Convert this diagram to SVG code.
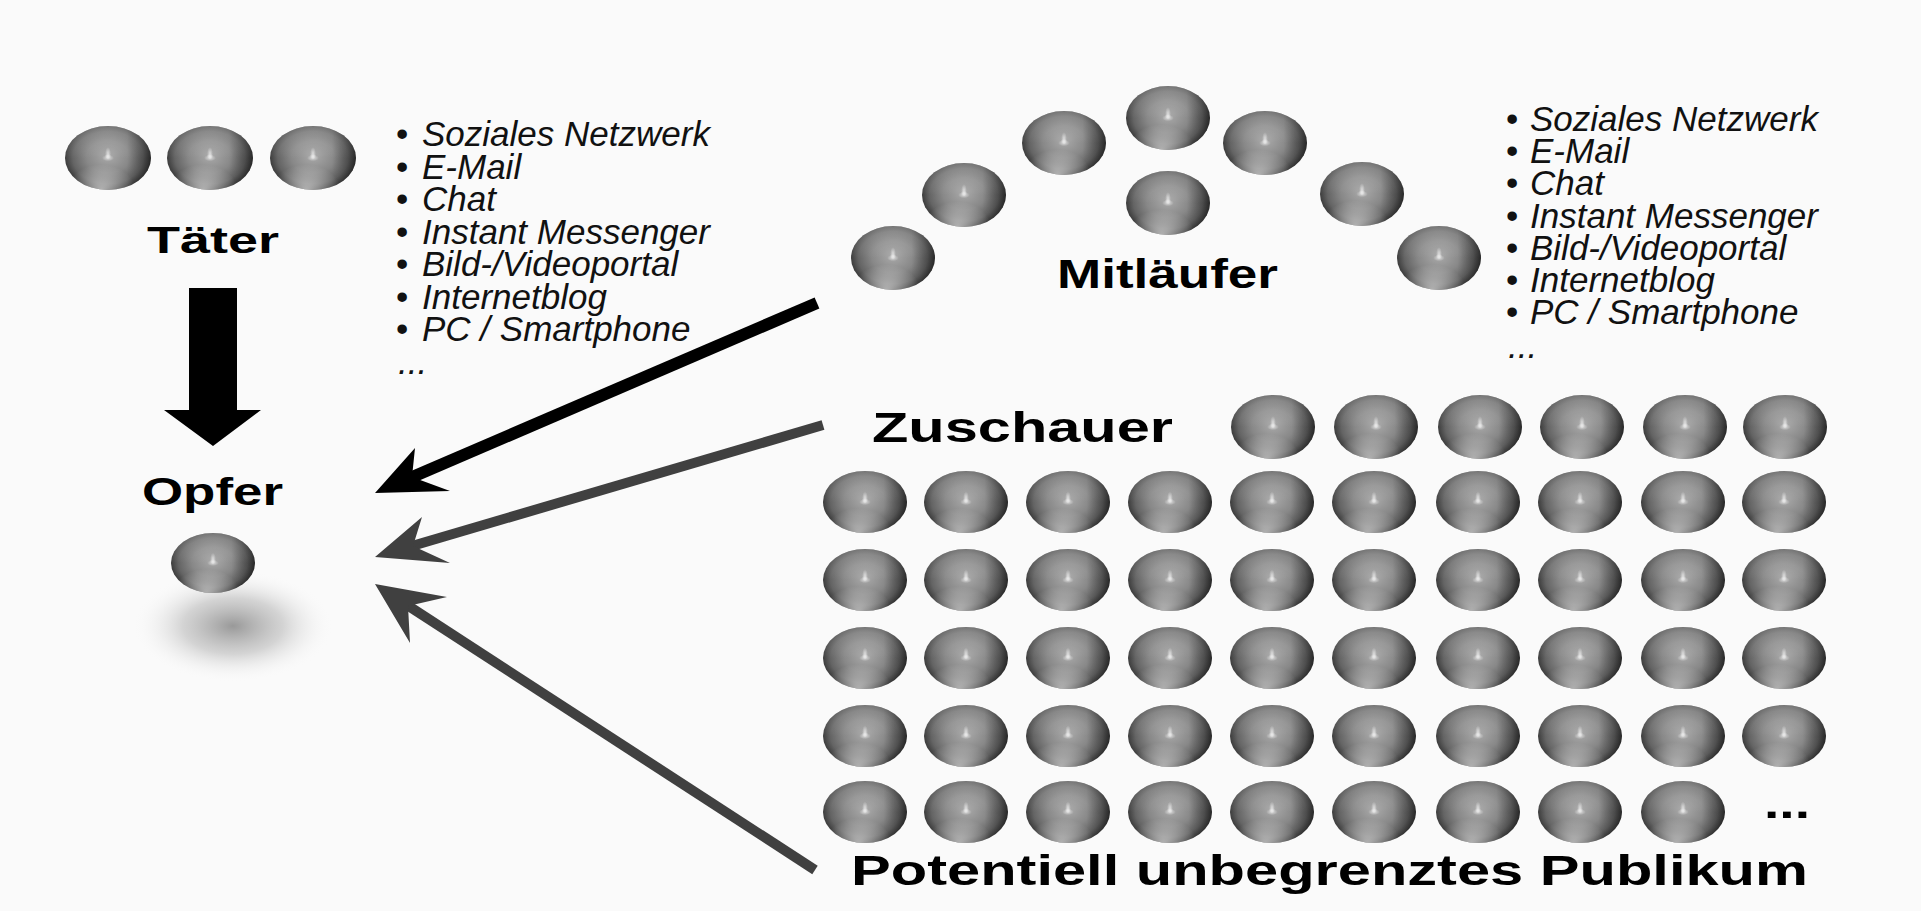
<svg xmlns="http://www.w3.org/2000/svg" xmlns:xlink="http://www.w3.org/1999/xlink" width="1921" height="911" viewBox="0 0 1921 911">
  <style>
    .label { font-family: "Liberation Sans", Arial, sans-serif; font-weight: bold; fill: #000; }
    .list { font-family: "Liberation Sans", Arial, sans-serif; font-size: 35px; fill: #111; }
    .item { font-style: italic; }
    .wire-black { stroke: #000; stroke-width: 12; fill: none; }
    .wire-grey { stroke: #404040; stroke-width: 10; fill: none; }
    .head-black { fill: #000; }
    .head-grey { fill: #404040; }
  </style>
  <defs>
    <!-- glossy grey sphere, unit size, scaled per use -->
    <radialGradient id="sphereBody" cx="0.5" cy="0.5" r="0.5" fx="0.5" fy="0.47">
      <stop offset="0" stop-color="#d6d6d6"/>
      <stop offset="0.08" stop-color="#a4a4a4"/>
      <stop offset="0.5" stop-color="#888"/>
      <stop offset="0.82" stop-color="#646464"/>
      <stop offset="1" stop-color="#3c3c3c"/>
    </radialGradient>
    <linearGradient id="sphereTop" x1="0" y1="0" x2="0" y2="1">
      <stop offset="0" stop-color="#fff" stop-opacity="0.3"/>
      <stop offset="0.5" stop-color="#fff" stop-opacity="0"/>
    </linearGradient>
    <linearGradient id="sphereSide" x1="0" y1="0" x2="1" y2="0">
      <stop offset="0" stop-color="#000" stop-opacity="0"/>
      <stop offset="0.72" stop-color="#000" stop-opacity="0"/>
      <stop offset="1" stop-color="#000" stop-opacity="0.35"/>
    </linearGradient>
    <radialGradient id="sphereRim" cx="0.42" cy="1" r="0.4">
      <stop offset="0" stop-color="#fff" stop-opacity="0.6"/>
      <stop offset="1" stop-color="#fff" stop-opacity="0"/>
    </radialGradient>
    <radialGradient id="sphereGlint" cx="0.5" cy="0.5" r="0.5">
      <stop offset="0" stop-color="#fff" stop-opacity="0.6"/>
      <stop offset="1" stop-color="#fff" stop-opacity="0"/>
    </radialGradient>
    <radialGradient id="dropShadow" cx="0.5" cy="0.5" r="0.5">
      <stop offset="0" stop-color="#8e8e8e" stop-opacity="0.9"/>
      <stop offset="0.5" stop-color="#b4b4b4" stop-opacity="0.55"/>
      <stop offset="1" stop-color="#fafafa" stop-opacity="0"/>
    </radialGradient>
    <g id="sphere">
      <ellipse cx="0" cy="0" rx="1" ry="1" fill="url(#sphereBody)"/>
      <ellipse cx="0" cy="0" rx="1" ry="1" fill="url(#sphereTop)"/>
      <ellipse cx="0" cy="0" rx="1" ry="1" fill="url(#sphereSide)"/>
      <ellipse cx="0" cy="0" rx="1" ry="1" fill="url(#sphereRim)"/>
      <ellipse cx="0" cy="-0.14" rx="0.07" ry="0.2" fill="url(#sphereGlint)"/>
      <ellipse cx="0" cy="0" rx="0.14" ry="0.1" fill="url(#sphereGlint)"/>
    </g>
  </defs>

  <rect x="0" y="0" width="1921" height="911" fill="#fafafa"/>

  <!-- perpetrators -->
  <g id="taeter">
    <use xlink:href="#sphere" transform="translate(108 158) scale(43 32)"/>
    <use xlink:href="#sphere" transform="translate(210 158) scale(43 32)"/>
    <use xlink:href="#sphere" transform="translate(313 158) scale(43 32)"/>
    <text class="label" x="147" y="253" font-size="37" textLength="132" lengthAdjust="spacingAndGlyphs">Täter</text>
  </g>

  <!-- victim -->
  <g id="opfer">
    <text class="label" x="142" y="505" font-size="38" textLength="141" lengthAdjust="spacingAndGlyphs">Opfer</text>
    <ellipse cx="233" cy="626" rx="100" ry="56" fill="url(#dropShadow)"/>
    <use xlink:href="#sphere" transform="translate(213 563) scale(42 30)"/>
  </g>

  <!-- channels, left list -->
  <g id="medien-links">
    <text class="list">
      <tspan x="396" y="146">•</tspan><tspan class="item" x="422" y="146">Soziales Netzwerk</tspan>
      <tspan x="396" y="178.5">•</tspan><tspan class="item" x="422" y="178.5">E-Mail</tspan>
      <tspan x="396" y="211">•</tspan><tspan class="item" x="422" y="211">Chat</tspan>
      <tspan x="396" y="243.5">•</tspan><tspan class="item" x="422" y="243.5">Instant Messenger</tspan>
      <tspan x="396" y="276">•</tspan><tspan class="item" x="422" y="276">Bild-/Videoportal</tspan>
      <tspan x="396" y="308.5">•</tspan><tspan class="item" x="422" y="308.5">Internetblog</tspan>
      <tspan x="396" y="341">•</tspan><tspan class="item" x="422" y="341">PC / Smartphone</tspan>
      <tspan class="item" x="398" y="374">...</tspan>
    </text>
  </g>

  <!-- channels, right list -->
  <g id="medien-rechts">
    <text class="list">
      <tspan x="1506" y="131">•</tspan><tspan class="item" x="1530" y="131">Soziales Netzwerk</tspan>
      <tspan x="1506" y="163">•</tspan><tspan class="item" x="1530" y="163">E-Mail</tspan>
      <tspan x="1506" y="195">•</tspan><tspan class="item" x="1530" y="195">Chat</tspan>
      <tspan x="1506" y="228">•</tspan><tspan class="item" x="1530" y="228">Instant Messenger</tspan>
      <tspan x="1506" y="260">•</tspan><tspan class="item" x="1530" y="260">Bild-/Videoportal</tspan>
      <tspan x="1506" y="292">•</tspan><tspan class="item" x="1530" y="292">Internetblog</tspan>
      <tspan x="1506" y="324">•</tspan><tspan class="item" x="1530" y="324">PC / Smartphone</tspan>
      <tspan class="item" x="1508" y="358">...</tspan>
    </text>
  </g>

  <!-- followers -->
  <g id="mitlaeufer">
    <use xlink:href="#sphere" transform="translate(893 258) scale(42 32)"/>
    <use xlink:href="#sphere" transform="translate(964 195) scale(42 32)"/>
    <use xlink:href="#sphere" transform="translate(1064 143) scale(42 32)"/>
    <use xlink:href="#sphere" transform="translate(1168 118) scale(42 32)"/>
    <use xlink:href="#sphere" transform="translate(1168 203) scale(42 32)"/>
    <use xlink:href="#sphere" transform="translate(1265 143) scale(42 32)"/>
    <use xlink:href="#sphere" transform="translate(1362 194) scale(42 32)"/>
    <use xlink:href="#sphere" transform="translate(1439 258) scale(42 32)"/>
    <text class="label" x="1057" y="288" font-size="40" textLength="221" lengthAdjust="spacingAndGlyphs">Mitläufer</text>
  </g>

  <!-- bystanders -->
  <g id="zuschauer">
    <text class="label" x="872" y="442" font-size="42" textLength="301" lengthAdjust="spacingAndGlyphs">Zuschauer</text>
    <use xlink:href="#sphere" transform="translate(1273 427) scale(42 32)"/>
    <use xlink:href="#sphere" transform="translate(1376 427) scale(42 32)"/>
    <use xlink:href="#sphere" transform="translate(1480 427) scale(42 32)"/>
    <use xlink:href="#sphere" transform="translate(1582 427) scale(42 32)"/>
    <use xlink:href="#sphere" transform="translate(1685 427) scale(42 32)"/>
    <use xlink:href="#sphere" transform="translate(1785 427) scale(42 32)"/>
  </g>

  <!-- unlimited audience -->
  <g id="publikum">
    <g id="row1">
      <use xlink:href="#sphere" transform="translate(865 502) scale(42 31)"/>
      <use xlink:href="#sphere" transform="translate(966 502) scale(42 31)"/>
      <use xlink:href="#sphere" transform="translate(1068 502) scale(42 31)"/>
      <use xlink:href="#sphere" transform="translate(1170 502) scale(42 31)"/>
      <use xlink:href="#sphere" transform="translate(1272 502) scale(42 31)"/>
      <use xlink:href="#sphere" transform="translate(1374 502) scale(42 31)"/>
      <use xlink:href="#sphere" transform="translate(1478 502) scale(42 31)"/>
      <use xlink:href="#sphere" transform="translate(1580 502) scale(42 31)"/>
      <use xlink:href="#sphere" transform="translate(1683 502) scale(42 31)"/>
      <use xlink:href="#sphere" transform="translate(1784 502) scale(42 31)"/>
    </g>
    <use xlink:href="#row1" transform="translate(0 78)"/>
    <use xlink:href="#row1" transform="translate(0 156)"/>
    <use xlink:href="#row1" transform="translate(0 234)"/>
    <use xlink:href="#sphere" transform="translate(865 812) scale(42 31)"/>
    <use xlink:href="#sphere" transform="translate(966 812) scale(42 31)"/>
    <use xlink:href="#sphere" transform="translate(1068 812) scale(42 31)"/>
    <use xlink:href="#sphere" transform="translate(1170 812) scale(42 31)"/>
    <use xlink:href="#sphere" transform="translate(1272 812) scale(42 31)"/>
    <use xlink:href="#sphere" transform="translate(1374 812) scale(42 31)"/>
    <use xlink:href="#sphere" transform="translate(1478 812) scale(42 31)"/>
    <use xlink:href="#sphere" transform="translate(1580 812) scale(42 31)"/>
    <use xlink:href="#sphere" transform="translate(1683 812) scale(42 31)"/>
    <text class="label" x="1764" y="818" font-size="42" textLength="46" lengthAdjust="spacingAndGlyphs">...</text>
    <text class="label" x="851" y="885" font-size="43" textLength="957" lengthAdjust="spacingAndGlyphs">Potentiell unbegrenztes Publikum</text>
  </g>

  <!-- connectors -->
  <g id="connectors">
    <!-- Täter to Opfer -->
    <polygon class="head-black" points="189,288 237,288 237,410 261,410 213,446 164,410 189,410"/>
    <!-- Mitläufer to Opfer -->
    <line class="wire-black" x1="817" y1="303" x2="410" y2="478"/>
    <polygon class="head-black" points="375,493 415,448 412,477 450,491"/>
    <!-- Zuschauer to Opfer -->
    <line class="wire-grey" x1="823" y1="425" x2="412" y2="546"/>
    <polygon class="head-grey" points="375,557 422,517 413,546 450,563"/>
    <!-- Publikum to Opfer -->
    <line class="wire-grey" x1="815" y1="870" x2="407" y2="605"/>
    <polygon class="head-grey" points="375,584 447,597 408,606 410,643"/>
  </g>
</svg>
